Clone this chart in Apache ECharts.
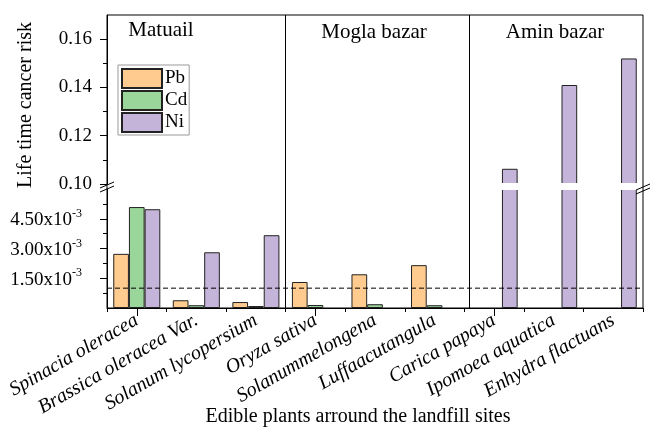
<!DOCTYPE html>
<html><head><meta charset="utf-8">
<script src="https://cdn.jsdelivr.net/npm/echarts@6/dist/echarts.min.js"></script>
<style>html,body{margin:0;padding:0;background:#fff}#c{width:654px;height:428px}</style>
</head><body><div id="c"></div>
<script>
// ---- data ----
const plants = ['Spinacia oleracea','Brassica oleracea Var.','Solanum lycopersium','Oryza sativa','Solanummelongena','Luffaacutangula','Carica papaya','Ipomoea aquatica','Enhydra flactuans'];
const pb = [0.00273, 0.00039, 0.00030, 0.00131, 0.00170, 0.00216, null, null, null];
const cd = [0.00509, 0.00014, 0.00010, 0.00015, 0.00019, 0.00014, null, null, null];
const ni = [0.00498, 0.00281, 0.00367, null, null, null, 0.1063, 0.1410, 0.1520];
const sites = ['Matuail','Mogla bazar','Amin bazar'];
const siteBoundaries = [3, 6.08];
const threshold = 0.001;
const upperLabelTicks = [0.10, 0.12, 0.14, 0.16];
const upperMinorTicks = [0.11, 0.13, 0.15];
const lowerLabelTicks = [0.0015, 0.003, 0.0045];
const lowerMinorTicks = [0.00075, 0.00225, 0.00375, 0.00525];

// ---- style ----
const FONT = '"Liberation Serif","Times New Roman",serif';
const colors = {Pb:'#FFCB8E', Cd:'#9AD59A', Ni:'#C5B4DA'};
const L = 107, R = 11;
const UP = {top:15, height:169};
const LO = {top:189, height:119};

const chart = echarts.init(document.getElementById('c'), null, {renderer:'canvas'});

function bars(xi, yi) {
  const list = [['Pb', pb], ['Cd', cd], ['Ni', ni]];
  return list.map(([name, arr]) => ({
    type:'bar', name, data: arr, xAxisIndex: xi, yAxisIndex: yi,
    barGap:'0%', barCategoryGap:'21%',
    itemStyle:{color: colors[name], borderColor:'#222', borderWidth:1},
    emphasis:{disabled:true}
  }));
}

const axisLineBlack = {show:true, lineStyle:{color:'#000', width:1}};
const labelFont = {color:'#000', fontFamily:FONT, fontSize:19};

const option = {
  animation:false,
  backgroundColor:'#fff',
  grid:[
    {left:L, right:R, ...UP},
    {left:L, right:R, ...LO},
    {left:L, right:R, top:15, height:293, show:true, borderColor:'#000', borderWidth:1, backgroundColor:'transparent'},
    {left:L, right:R, ...UP},
    {left:L, right:R, ...LO},
    {left:L, right:R, ...LO}
  ],
  legend:{
    orient:'vertical', left:118, top:65, padding:[3,2,2,3],
    itemWidth:40, itemHeight:19, itemGap:1, icon:'rect',
    borderColor:'#999', borderWidth:1,
    data:['Pb','Cd','Ni'],
    textStyle:{color:'#000', fontFamily:FONT, fontSize:19, lineHeight:19, padding:[0,0,0,-2]},
    selectedMode:false
  },
  xAxis:[
    {gridIndex:0, type:'category', data:plants, show:false},
    {gridIndex:1, type:'category', data:plants,
      axisLine:axisLineBlack,
      axisTick:{show:true, length:4, lineStyle:{color:'#000'}},
      axisLabel:{interval:0, rotate:30, margin:11, fontStyle:'italic', color:'#000', fontFamily:FONT, fontSize:20}},
    {gridIndex:2, type:'value', min:0, max:9, show:false},
    {gridIndex:3, type:'category', data:plants, show:false},
    {gridIndex:4, type:'category', data:plants,
      axisLine:{show:false},
      axisTick:{show:true, alignWithLabel:true, length:8, lineStyle:{color:'#000'}},
      axisLabel:{show:false}},
    {gridIndex:5, type:'value', min:0, max:9, show:false}
  ],
  yAxis:[
    {gridIndex:0, type:'value', min:0.10, max:0.17,
      axisLine:axisLineBlack, splitLine:{show:false},
      axisTick:{show:true, length:7, customValues:upperLabelTicks, lineStyle:{color:'#000'}},
      axisLabel:{customValues:upperLabelTicks, margin:15, formatter:v => v.toFixed(2), ...labelFont}},
    {gridIndex:1, type:'value', min:0, max:0.006,
      axisLine:axisLineBlack, splitLine:{show:false},
      axisTick:{show:true, length:7, customValues:lowerLabelTicks, lineStyle:{color:'#000'}},
      axisLabel:{customValues:lowerLabelTicks, margin:25,
        formatter:v => '{b|' + (v*1000).toFixed(2) + 'x10}{s|-3}',
        rich:{
          b:{color:'#000', fontFamily:FONT, fontSize:19, lineHeight:22, verticalAlign:'bottom'},
          s:{color:'#000', fontFamily:FONT, fontSize:12, lineHeight:22, verticalAlign:'top'}
        }}},
    {gridIndex:2, type:'value', min:0, max:1, show:false},
    {gridIndex:3, type:'value', min:0.10, max:0.17,
      axisLine:{show:false}, splitLine:{show:false},
      axisTick:{show:true, length:4, customValues:upperMinorTicks, lineStyle:{color:'#000'}},
      axisLabel:{show:false}},
    {gridIndex:4, type:'value', min:0, max:0.006,
      axisLine:{show:false}, splitLine:{show:false},
      axisTick:{show:true, length:4, customValues:lowerMinorTicks, lineStyle:{color:'#000'}},
      axisLabel:{show:false}},
    {gridIndex:5, type:'value', min:0, max:0.006, show:false}
  ],
  series:[
    ...bars(0, 0),
    ...bars(1, 1),
    {type:'scatter', xAxisIndex:2, yAxisIndex:2, data:[[0,0]], symbolSize:0, z:5, silent:true,
      markLine:{silent:true, symbol:'none', label:{show:false},
        lineStyle:{color:'#000', width:1, type:'solid'},
        data: siteBoundaries.map(v => ({xAxis:v}))}},
    {type:'line', xAxisIndex:5, yAxisIndex:5, data:[[0, threshold],[9, threshold]], showSymbol:false, z:5, silent:true,
      lineStyle:{color:'#000', width:1, type:[5,3]}}
  ],
  graphic:[
    {type:'rect', z:3, silent:true, shape:{x:108, y:183, width:534, height:7}, style:{fill:'#fff'}},
    {type:'line', z:10, shape:{x1:100, y1:188, x2:114, y2:182}, style:{stroke:'#000', lineWidth:1}},
    {type:'line', z:10, shape:{x1:100, y1:192, x2:114, y2:186}, style:{stroke:'#000', lineWidth:1}},
    {type:'line', z:10, shape:{x1:636, y1:190, x2:650, y2:184}, style:{stroke:'#000', lineWidth:1}},
    {type:'line', z:10, shape:{x1:636, y1:194, x2:650, y2:188}, style:{stroke:'#000', lineWidth:1}},
    {type:'text', z:10, x:161, y:30, style:{text:sites[0], fill:'#000', fontFamily:FONT, fontSize:21, align:'center', verticalAlign:'middle'}},
    {type:'text', z:10, x:374, y:32, style:{text:sites[1], fill:'#000', fontFamily:FONT, fontSize:21, align:'center', verticalAlign:'middle'}},
    {type:'text', z:10, x:555, y:32, style:{text:sites[2], fill:'#000', fontFamily:FONT, fontSize:21, align:'center', verticalAlign:'middle'}},
    {type:'text', z:10, x:26, y:105, rotation:Math.PI/2, style:{text:'Life time cancer risk', fill:'#000', fontFamily:FONT, fontSize:20, align:'center', verticalAlign:'middle'}},
    {type:'text', z:10, x:358, y:417, style:{text:'Edible plants arround the landfill sites', fill:'#000', fontFamily:FONT, fontSize:20, align:'center', verticalAlign:'middle'}}
  ]
};
chart.setOption(option);
</script></body></html>
